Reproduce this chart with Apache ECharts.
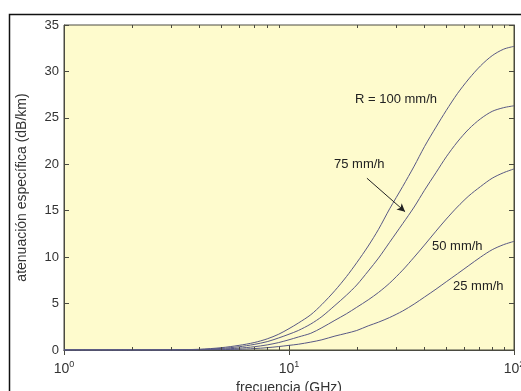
<!DOCTYPE html>
<html>
<head>
<meta charset="utf-8">
<script src="https://cdn.jsdelivr.net/npm/echarts@6/dist/echarts.min.js"></script>
<style>
html,body{margin:0;padding:0;background:#fff;}
#chart{width:521px;height:391px;}
</style>
</head>
<body>
<div id="chart"></div>
<script>
// ---- data ----
const freqGHz = [1, 2, 3, 4, 5, 6, 7, 8, 9, 10, 11, 12.5, 14, 16, 18, 20, 22.5, 25, 28, 32, 36, 40, 45, 50, 56, 63, 71, 80, 90, 100];
const att100 = [0, 0, 0.02, 0.08, 0.25, 0.5, 0.8, 1.2, 1.7, 2.3, 2.9, 3.8, 4.9, 6.4, 7.9, 9.4, 11.2, 13.0, 15.2, 17.6, 19.8, 21.9, 24.0, 25.8, 27.6, 29.2, 30.6, 31.7, 32.4, 32.7];
const att75  = [0, 0, 0.01, 0.05, 0.17, 0.35, 0.6, 0.9, 1.3, 1.7, 2.1, 2.8, 3.6, 4.8, 5.9, 7.0, 8.5, 9.9, 11.6, 13.6, 15.4, 17.2, 19.1, 20.8, 22.4, 23.8, 24.9, 25.7, 26.1, 26.3];
const att50  = [0, 0, 0, 0.03, 0.1, 0.2, 0.35, 0.55, 0.8, 1.1, 1.4, 1.8, 2.4, 3.2, 3.9, 4.6, 5.4, 6.2, 7.2, 8.6, 10.0, 11.3, 12.8, 14.1, 15.4, 16.6, 17.6, 18.5, 19.1, 19.5];
const att25  = [0, 0, 0, 0.01, 0.04, 0.08, 0.15, 0.25, 0.37, 0.5, 0.62, 0.85, 1.1, 1.5, 1.8, 2.1, 2.6, 3.0, 3.5, 4.2, 4.95, 5.7, 6.55, 7.35, 8.2, 9.1, 10.0, 10.8, 11.35, 11.7];
const yTicks = [0, 5, 10, 15, 20, 25, 30, 35];
const xMinorTicks = [2, 3, 4, 5, 6, 7, 8, 9, 20, 30, 40, 50, 60, 70, 80, 90];
const curveLabels = ['R = 100 mm/h', '75 mm/h', '50 mm/h', '25 mm/h'];
const arrowFrom = [22.2, 18.5];
const arrowTo = [32.8, 14.9];
const xTitle = 'frecuencia (GHz)';
const yTitle = 'atenuación específica (dB/km)';

const FONT = 'Liberation Sans, Arial, sans-serif';
const LINE = '#585884';
const AX = '#4a4a40';

const chart = echarts.init(document.getElementById('chart'), null, {renderer: 'canvas'});

function mk(arr){ return freqGHz.map((f, i) => [f, arr[i]]); }

const lineSeries = [att100, att75, att50, att25].map((arr, k) => ({
  type: 'line',
  data: mk(arr),
  xAxisIndex: 0, yAxisIndex: 0,
  showSymbol: false,
  smooth: 0.3,
  lineStyle: {color: LINE, width: 1},
  silent: true,
  z: 3
}));

lineSeries[1].markLine = {
  silent: true,
  symbol: ['none', 'arrow'],
  symbolSize: [6, 8],
  label: {show: false},
  lineStyle: {color: '#222', width: 1, type: 'solid'},
  data: [[{coord: arrowFrom}, {coord: arrowTo}]]
};

const ticksSeries = {
  type: 'custom',
  xAxisIndex: 0, yAxisIndex: 0,
  data: xMinorTicks.map(v => [v, 0]),
  silent: true,
  clip: false,
  z: 4,
  renderItem: function(params, api){
    const v = api.value(0);
    const pb = api.coord([v, yTicks[0]]);
    const pt = api.coord([v, yTicks[yTicks.length - 1]]);
    const st = {stroke: AX, lineWidth: 1};
    return {type: 'group', children: [
      {type: 'line', shape: {x1: Math.round(pb[0]) + 0.5, y1: pb[1], x2: Math.round(pb[0]) + 0.5, y2: pb[1] - 3}, style: st},
      {type: 'line', shape: {x1: Math.round(pt[0]) + 0.5, y1: pt[1], x2: Math.round(pt[0]) + 0.5, y2: pt[1] + 3}, style: st}
    ]};
  }
};

const option = {
  animation: false,
  backgroundColor: '#ffffff',
  grid: {left: 64, top: 25, width: 450, height: 325, containLabel: false, outerBoundsMode: 'none',
         show: true, backgroundColor: '#fefbcd', borderColor: AX, borderWidth: 1},
  xAxis: [{
    type: 'log', logBase: 10, min: 1, max: 100, position: 'bottom',
    name: xTitle, nameLocation: 'middle', nameGap: 28,
    nameTextStyle: {fontFamily: FONT, fontSize: 14, color: '#333'},
    axisLine: {show: true, lineStyle: {color: AX}},
    axisTick: {show: true, inside: true, length: 5, lineStyle: {color: AX}},
    splitLine: {show: false},
    axisLabel: {
      margin: 10, fontFamily: FONT, fontSize: 14, color: '#333',
      formatter: function(v){ return '10{s|' + Math.round(Math.log10(v)) + '}'; },
      rich: {s: {fontSize: 9, verticalAlign: 'top', padding: [0, 0, 9, 0], fontFamily: FONT, color: '#333'}}
    }
  }, {
    type: 'log', logBase: 10, min: 1, max: 100, position: 'top',
    axisLine: {show: true, lineStyle: {color: AX}},
    axisTick: {show: true, inside: true, length: 5, lineStyle: {color: AX}},
    axisLabel: {show: false}, splitLine: {show: false}
  }],
  yAxis: [{
    type: 'value', min: yTicks[0], max: yTicks[yTicks.length - 1], interval: 5, position: 'left',
    name: yTitle, nameLocation: 'middle', nameGap: 35,
    nameTextStyle: {fontFamily: FONT, fontSize: 14, color: '#333'},
    axisLine: {show: true, lineStyle: {color: AX}},
    axisTick: {show: true, inside: true, length: 5, lineStyle: {color: AX}},
    splitLine: {show: false},
    axisLabel: {margin: 5, fontFamily: FONT, fontSize: 13, color: '#333'}
  }, {
    type: 'value', min: yTicks[0], max: yTicks[yTicks.length - 1], interval: 5, position: 'right',
    axisLine: {show: true, lineStyle: {color: AX}},
    axisTick: {show: true, inside: true, length: 5, lineStyle: {color: AX}},
    axisLabel: {show: false}, splitLine: {show: false}
  }],
  series: lineSeries.concat([ticksSeries]),
  graphic: [
    {type: 'rect', shape: {x: 9.5, y: 14.5, width: 700, height: 600}, style: {fill: 'none', stroke: '#111', lineWidth: 1.5}, silent: true, z: 10},
    {type: 'text', left: 355, top: 93, style: {text: curveLabels[0], font: '13px ' + FONT, fill: '#222'}, z: 10},
    {type: 'text', left: 334, top: 158, style: {text: curveLabels[1], font: '13px ' + FONT, fill: '#222'}, z: 10},
    {type: 'text', left: 432, top: 240, style: {text: curveLabels[2], font: '13px ' + FONT, fill: '#222'}, z: 10},
    {type: 'text', left: 453, top: 280, style: {text: curveLabels[3], font: '13px ' + FONT, fill: '#222'}, z: 10}
  ]
};
chart.setOption(option);
</script>
</body>
</html>
